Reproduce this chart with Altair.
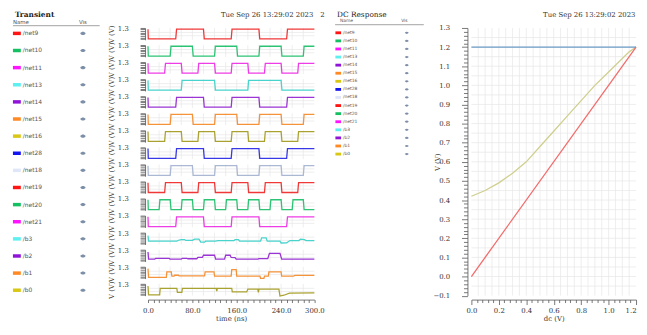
import altair as alt
import pandas as pd

SERIF = "DejaVu Serif"
SANS = "DejaVu Sans"

# ---------------- data ----------------
names = ["/net9", "/net10", "/net11", "/net13", "/net14", "/net15", "/net16", "/net28",
         "/net18", "/net19", "/net20", "/net21", "/b3", "/b2", "/b1", "/b0"]
swatch_colors = ["#ff1414", "#14c062", "#ff14ff", "#5ef0f0", "#9014d8", "#ff8a24", "#d8c814", "#1414f0",
                 "#dfe6f8", "#ff1414", "#14c062", "#ff14ff", "#5ef0f0", "#9014d8", "#ff8a24", "#d8c814"]
line_colors = ["#f03838", "#2cc474", "#ee3ce6", "#48d4cc", "#9a34d4", "#f5923a", "#aaa230", "#3838e6",
               "#aab8d4", "#f03838", "#2cc474", "#ee3ce6", "#48d4cc", "#9a34d4", "#f5923a", "#aaa230"]

# digital waveforms: edge times (ns); every signal starts low after t=0
edges_net9 = [50, 100, 150, 200, 250]
edges_net10 = [40, 80, 120, 160, 200, 240, 280]
edges_net11 = [30, 60, 90, 120, 150, 180, 210, 240, 270]
edges_net13 = [60, 120, 180, 240]
edges_net14 = [50, 100, 150, 200, 250]
edges_net15 = [40, 80, 120, 160, 200, 240, 280]
edges_net16 = [30, 60, 90, 120, 150, 180, 210, 240, 270]
edges_net28 = [50, 100, 150, 200, 250]
edges_net18 = [40, 80, 120, 160, 200, 240, 280]
edges_net19 = [30, 60, 90, 120, 150, 180, 210, 240, 270]
edges_net20 = [20, 40, 60, 80, 100, 120, 140, 160, 180, 200, 220, 240, 260, 280]
edges_net21 = [50, 100, 150, 200, 250]
high_level = 1.2

# analog outputs (time ns, volts)
b3_t = [0, 1, 52, 55, 60, 66, 68, 80, 84, 92, 95, 102, 104, 122, 126, 155, 157, 163, 165, 203,
        205, 213, 215, 238, 240, 250, 256, 272, 275, 282, 285, 300]
b3_v = [0.98, 0.30, 0.30, 0.42, 0.50, 0.50, 0.40, 0.40, 0.55, 0.55, 0.20, 0.20, 0.30, 0.30, 0.36, 0.36,
        0.50, 0.50, 0.32, 0.32, 0.72, 0.72, 0.30, 0.30, 0.08, 0.10, 0.38, 0.38, 0.55, 0.50, 0.38, 0.36]
b2_t = [0, 1, 12, 14, 38, 40, 60, 62, 70, 72, 88, 90, 98, 100, 120, 122, 138, 140, 148, 150,
        157, 159, 198, 200, 216, 219, 238, 241, 300]
b2_v = [1.07, 0.20, 0.20, 0.28, 0.28, 0.20, 0.20, 0.30, 0.30, 0.24, 0.24, 0.40, 0.40, 0.67, 0.67,
        0.20, 0.20, 0.67, 0.67, 0.40, 0.38, 0.20, 0.20, 0.26, 0.26, 0.91, 0.91, 0.20, 0.20]
b1_t = [0, 1, 33, 34, 42, 43, 47, 48, 55, 56, 102, 103, 119, 120, 150, 151, 159, 160, 202, 203,
        209, 210, 217, 218, 240, 241, 262, 265, 300]
b1_v = [1.12, 0.04, 0.04, 0.72, 0.72, 0.19, 0.19, 0.31, 0.31, 0.22, 0.22, 0.72, 0.72, 0.19, 0.19,
        1.00, 1.00, 0.19, 0.19, -0.08, -0.08, 0.19, 0.19, 0.72, 0.72, 0.19, 0.19, 0.30, 0.30]
b0_t = [0, 1, 21, 22, 52, 53, 61, 62, 123, 124, 125, 151, 152, 178, 180, 198, 199, 200, 236, 238,
        245, 255, 300]
b0_v = [1.08, 0.00, 0.00, 0.80, 0.80, 0.30, 0.30, 0.80, 0.80, 0.45, 0.80, 0.80, 0.35, 0.35, 0.70,
        0.70, 0.30, 0.70, 0.70, -0.15, -0.05, 0.20, 0.25]

time_labels = [0, 80, 160, 240, 300]

# DC response
dc_x_vdd = [0.0, 1.2]
dc_v_vdd = [1.2, 1.2]
dc_x_vin = [0.0, 1.2]
dc_v_vin = [0.0, 1.2]
dc_x_vout = [0.0, 0.1, 0.2, 0.3, 0.4, 0.5, 0.6, 0.7, 0.8, 0.9, 1.0, 1.1, 1.15, 1.2]
dc_v_vout = [0.42, 0.45, 0.49, 0.54, 0.60, 0.68, 0.76, 0.84, 0.92, 1.00, 1.07, 1.14, 1.175, 1.2]
color_vdd = "#6b9cc6"
color_vin = "#f26b6b"
color_vout = "#cfcf8f"

timestamp = "Tue Sep 26 13:29:02 2023"

# ---------------- tables ----------------
digital = {"/net9": edges_net9, "/net10": edges_net10, "/net11": edges_net11, "/net13": edges_net13,
           "/net14": edges_net14, "/net15": edges_net15, "/net16": edges_net16, "/net28": edges_net28,
           "/net18": edges_net18, "/net19": edges_net19, "/net20": edges_net20, "/net21": edges_net21}
analog = {"/b3": (b3_t, b3_v), "/b2": (b2_t, b2_v), "/b1": (b1_t, b1_v), "/b0": (b0_t, b0_v)}

rows = []
for nm, edges in digital.items():
    level = 0.0
    rows.append((nm, 0.0, high_level))
    rows.append((nm, 0.5, level))
    for e in edges:
        rows.append((nm, float(e), level))
        level = high_level - level
        rows.append((nm, e + 1.5, level))
    rows.append((nm, 300.0, level))
for nm, (ts, vs) in analog.items():
    for t, v in zip(ts, vs):
        rows.append((nm, float(t), v))
trans_df = pd.DataFrame(rows, columns=["sig", "t", "v"])

dc_vdd = pd.DataFrame({"x": dc_x_vdd, "v": dc_v_vdd})
dc_vin = pd.DataFrame({"x": dc_x_vin, "v": dc_v_vin})
dc_vout = pd.DataFrame({"x": dc_x_vout, "v": dc_v_vout})

one = pd.DataFrame({"k": [0]})
legend_df = pd.DataFrame({"name": names})

# ---------------- layout constants ----------------
A_W = 140.3
STRIP_W = 168.75
STRIP_H = 12
STRIP_GAP = 5.3
TOTAL_H = 16 * STRIP_H + 15 * STRIP_GAP
C_SHIFT = STRIP_W          # the nested vconcat adds no width in a flush row
C_W = C_SHIFT + 158.65
D_W = 167
D_H = TOTAL_H
TOP_Y = -13.5
ROW_A = (TOTAL_H - 11) / 15
ROW_C = 8.2

RECT_PATH = "M-1,-0.44H1V0.44H-1Z"
RECT_PATH_S = "M-1,-0.5H1V0.5H-1Z"
EYE_PATH = "M-1,0C-0.5,-0.75 0.5,-0.75 1,0C0.5,0.75 -0.5,0.75 -1,0Z"


def text_at(txt, x, y, size=7, font=SERIF, weight="normal", align="left", color="#333"):
    return alt.Chart(one).mark_text(text=txt, font=font, fontSize=size, fontWeight=weight,
                                    align=align, baseline="middle", color=color).encode(
        x=alt.value(x), y=alt.value(y))


def rule_h(x1, x2, y, color="#8a8a8a"):
    return alt.Chart(one).mark_rule(color=color, strokeWidth=0.8).encode(
        x=alt.value(x1), x2=alt.value(x2), y=alt.value(y))


# ---------------- panel A: transient legend ----------------
ya = alt.Y("name:N", sort=names, axis=None,
           scale=alt.Scale(type="point", domain=names, range=[5.5, 5.5 + 15 * ROW_A], padding=0))
ca = alt.Color("name:N", scale=alt.Scale(domain=names, range=swatch_colors), legend=None)
base_a = alt.Chart(legend_df)
panel_a = alt.layer(
    alt.Chart(one).mark_rule(color="white").encode(x=alt.value(0), y=alt.value(0), y2=alt.value(2)),
    text_at("Transient", 6, TOP_Y, size=7.5, weight="bold", color="#222"),
    text_at(timestamp, 308.7, TOP_Y, size=7, align="right"),
    text_at("Name", 4, -6, size=5.5, font=SANS, color="#555"),
    text_at("Vis", 71, -6, size=5.5, font=SANS, color="#555"),
    rule_h(4, 92, -2.3),
    base_a.mark_point(shape=RECT_PATH, size=64, filled=True, opacity=1, strokeWidth=0).encode(
        x=alt.value(8), y=ya, color=ca),
    base_a.mark_text(align="left", baseline="middle", font=SANS, fontSize=6, color="#555").encode(
        x=alt.value(14), y=ya, text="name:N"),
    base_a.mark_point(shape=EYE_PATH, size=30, filled=True, opacity=1, strokeWidth=0, color="#7d8fa8").encode(
        x=alt.value(75), y=ya),
).properties(width=A_W, height=TOTAL_H)

# ---------------- panel B: transient strips ----------------
XS = alt.Scale(domain=[0, 300], nice=False, zero=False)
YS = alt.Scale(domain=[-0.1, 1.35], nice=False, zero=False)
grid_t = pd.DataFrame({"t": list(range(20, 300, 20))})
grid_v = pd.DataFrame({"v": [0.4, 0.8]})
ladder = [0.0, 0.2, 0.4, 0.6, 0.8, 1.0, 1.2, 1.3]
x_tick_vals = list(range(0, 301, 10))
lab_arr = "[" + ",".join(str(v) for v in time_labels) + "]"

strips = []
for k, nm in enumerate(names):
    yaxis = alt.Axis(values=ladder, labelExpr="datum.value > 1.25 ? format(datum.value, '.1f') : ''",
                     labelOverlap=False, title="V (V)", titleFont=SERIF, titleFontSize=7,
                     titleFontWeight="normal", titleColor="#333", titlePadding=3,
                     labelFont=SERIF, labelFontSize=7, labelColor="#333", labelPadding=12,
                     offset=3, tickSize=5, tickColor="#555", tickWidth=0.8,
                     domainColor="#555", domainWidth=0.8, grid=False)
    if k == 15:
        xaxis = alt.Axis(values=x_tick_vals,
                         labelExpr="indexof(" + lab_arr + ", datum.value) >= 0 ? format(datum.value, '.1f') : ''",
                         labelOverlap=False, labelFlush=False, title="time (ns)", titleFont=SERIF,
                         titleFontSize=7, titleFontWeight="normal", titleColor="#333", titlePadding=1,
                         labelFont=SERIF, labelFontSize=7, labelColor="#333", labelPadding=4,
                         offset=4, tickSize=3, tickColor="#555", tickWidth=0.8,
                         domainColor="#555", domainWidth=0.8, grid=False)
    else:
        xaxis = None
    ln = alt.Chart(trans_df).transform_filter(alt.datum.sig == nm).mark_line(
        color=line_colors[k], strokeWidth=1.3).encode(
        x=alt.X("t:Q", scale=XS, axis=xaxis, title="time (ns)"),
        y=alt.Y("v:Q", scale=YS, axis=yaxis, title="V (V)"))
    gx = alt.Chart(grid_t).mark_rule(color="#e6e6e6", strokeWidth=0.7).encode(
        x=alt.X("t:Q", scale=XS, axis=xaxis, title="time (ns)"))
    gy = alt.Chart(grid_v).mark_rule(color="#e6e6e6", strokeWidth=0.7).encode(
        y=alt.Y("v:Q", scale=YS, axis=yaxis, title="V (V)"))
    strips.append(alt.layer(gx, gy, ln).properties(width=STRIP_W, height=STRIP_H))

panel_b = alt.vconcat(*strips, spacing=STRIP_GAP, bounds="flush")

# ---------------- panel C: DC legend ----------------
yc = alt.Y("name:N", sort=names, axis=None,
           scale=alt.Scale(type="point", domain=names, range=[4.9, 4.9 + 15 * ROW_C], padding=0))
s = C_SHIFT
panel_c = alt.layer(
    text_at("2", s + 6, TOP_Y, size=7),
    text_at("DC Response", s + 23, TOP_Y, size=7.5, color="#222"),
    text_at(timestamp, s + 158.65 + D_W, TOP_Y, size=7, align="right"),
    text_at("Name", s + 26, -7, size=4.5, font=SANS, color="#555"),
    text_at("Vis", s + 88, -7, size=4.5, font=SANS, color="#555"),
    rule_h(s + 21, s + 111, -3.3),
    base_a.mark_point(shape=RECT_PATH_S, size=33, filled=True, opacity=1, strokeWidth=0).encode(
        x=alt.value(s + 24.2), y=yc, color=ca),
    base_a.mark_text(align="left", baseline="middle", font=SANS, fontSize=4.5, color="#555").encode(
        x=alt.value(s + 29), y=yc, text="name:N"),
    base_a.mark_point(shape=EYE_PATH, size=16, filled=True, opacity=1, strokeWidth=0, color="#7d8fa8").encode(
        x=alt.value(s + 93.7), y=yc),
).properties(width=C_W, height=TOTAL_H)

# ---------------- panel D: DC response ----------------
DX = alt.Scale(domain=[0, 1.2], nice=False, zero=False)
DY = alt.Scale(domain=[-0.1, 1.3], nice=False, zero=False)
dgx = pd.DataFrame({"x": [round(i * 0.05, 2) for i in range(1, 24)]})
dgy = pd.DataFrame({"v": [round(-0.1 + i * 0.05, 2) for i in range(1, 28)]})
dx_ticks = [round(i * 0.04, 2) for i in range(31)]
dy_ticks = [round(-0.1 + i * 0.02, 2) for i in range(71)]
major10 = "abs(datum.value*10 - round(datum.value*10)) < 0.001"
major5 = "abs(datum.value*5 - round(datum.value*5)) < 0.001"

dxaxis = alt.Axis(values=dx_ticks, labelExpr=major5 + " ? format(datum.value, '.1f') : ''",
                  labelOverlap=False, labelFlush=False,
                  labelAlign={"condition": {"test": "datum.value > 1.19", "value": "right"}, "value": "center"},
                  title="dc (V)", titleFont=SERIF, titleFontSize=7, titleFontWeight="normal",
                  titleColor="#333", titlePadding=1, labelFont=SERIF, labelFontSize=7, labelColor="#333",
                  labelPadding=2, offset=4,
                  tickSize={"condition": {"test": major5, "value": 5}, "value": 3},
                  tickColor="#555", tickWidth=0.8, domainColor="#555", domainWidth=0.8, grid=False)
dyaxis = alt.Axis(values=dy_ticks, labelExpr=major10 + " ? format(datum.value, '.1f') : ''",
                  labelOverlap=False, title="V (V)", titleFont=SERIF, titleFontSize=7,
                  titleFontWeight="normal", titleColor="#333", titleX=-27,
                  labelFont=SERIF, labelFontSize=7, labelColor="#333", labelPadding=12, offset=4,
                  tickSize={"condition": {"test": major10, "value": 6}, "value": 4},
                  tickColor="#555", tickWidth=0.8, domainColor="#555", domainWidth=0.8, grid=False)


def dc_line(df, color):
    return alt.Chart(df).mark_line(strokeWidth=1.3, color=color).encode(
        x=alt.X("x:Q", scale=DX, axis=dxaxis, title="dc (V)"),
        y=alt.Y("v:Q", scale=DY, axis=dyaxis, title="V (V)"))


panel_d = alt.layer(
    alt.Chart(dgx).mark_rule(color="#e6e6e6", strokeWidth=0.7).encode(
        x=alt.X("x:Q", scale=DX, axis=dxaxis, title="dc (V)")),
    alt.Chart(dgy).mark_rule(color="#e6e6e6", strokeWidth=0.7).encode(
        y=alt.Y("v:Q", scale=DY, axis=dyaxis, title="V (V)")),
    dc_line(dc_vout, color_vout),
    dc_line(dc_vin, color_vin),
    dc_line(dc_vdd, color_vdd),
).properties(width=D_W, height=D_H)

chart = alt.hconcat(panel_a, panel_b, panel_c, panel_d, spacing=0, bounds="flush").properties(
    padding=0, background="white"
).resolve_scale(color="independent").configure_view(strokeWidth=0)

chart.save("out.html", embed_options={"renderer": "svg", "actions": False})
